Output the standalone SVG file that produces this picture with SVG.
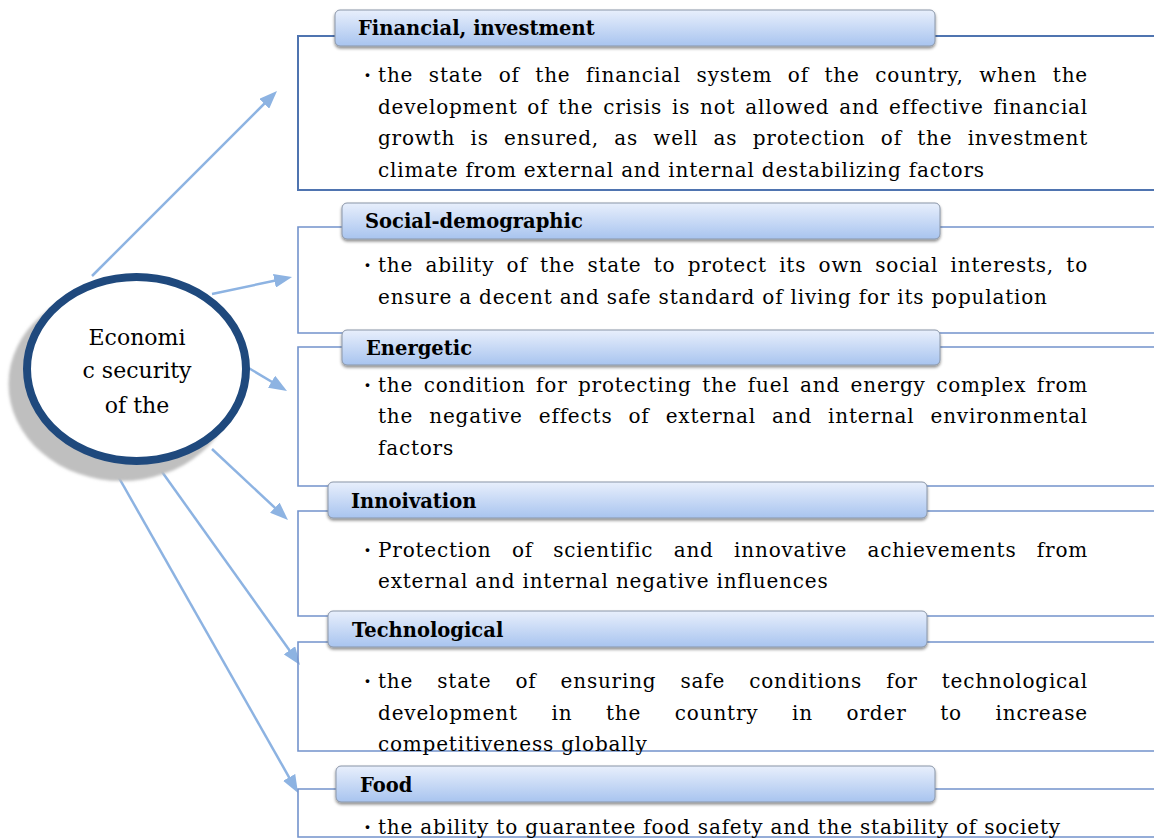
<svg xmlns="http://www.w3.org/2000/svg" width="1154" height="840" viewBox="0 0 1154 840">
<defs>
<linearGradient id="hg" x1="0" y1="0" x2="0" y2="1">
<stop offset="0" stop-color="#e8effc"/>
<stop offset="1" stop-color="#a8c4ef"/>
</linearGradient>
<filter id="hs" x="-5%" y="-30%" width="110%" height="170%">
<feDropShadow dx="0" dy="2" stdDeviation="1.5" flood-color="#000" flood-opacity="0.45"/>
</filter>
<filter id="blur" x="-10%" y="-10%" width="120%" height="120%"><feGaussianBlur stdDeviation="1.5"/></filter>
<marker id="ah" markerUnits="userSpaceOnUse" markerWidth="18" markerHeight="14" refX="6" refY="7" orient="auto"><path d="M0,0 L18,7 L0,14 z" fill="#8db3e2"/></marker>
</defs>
<style>
.box{fill:none;stroke:#7393cc;stroke-width:1.6}
.box1{fill:none;stroke:#4f74b0;stroke-width:2}
.hdr{fill:url(#hg);stroke:#8a96a8;stroke-width:1;filter:url(#hs)}
.ht{font-family:"DejaVu Serif",serif;font-weight:bold;font-size:19.5px;fill:#000}
.bt{font-family:"DejaVu Serif",serif;font-size:20px;letter-spacing:0.8px;fill:#000}
.bl{font-family:"DejaVu Serif",serif;font-size:20px;font-weight:bold;fill:#000}
.ct{font-family:"DejaVu Serif",serif;font-size:22px;fill:#000;text-anchor:middle}
.conn path{fill:none;stroke:#8db3e2;stroke-width:2.5;marker-end:url(#ah)}
</style>
<rect width="1154" height="840" fill="#fff"/>

<g id="connectors" class="conn">
<path d="M92,276 L268.5,99.5"/>
<path d="M212,294 L280.3,279.5"/>
<path d="M247,367 L276.7,384.8"/>
<path d="M212,449 L279.2,511.8"/>
<path d="M155,462 L293,655.2"/>
<path d="M110,462 L292.1,782.6"/>
</g>

<g id="center">
<ellipse cx="121.5" cy="384" rx="113" ry="97" fill="#bfbfbf" filter="url(#blur)"/>
<ellipse cx="136.5" cy="369" rx="109.5" ry="92" fill="#fff" stroke="#1f497d" stroke-width="8"/>
<text class="ct" x="137" y="345">Economi</text>
<text class="ct" x="137" y="378">c security</text>
<text class="ct" x="137" y="413">of the</text>
</g>

<g id="financial">
<path class="box1" d="M1160,36 H298 V190 H1160"/>
<rect class="hdr" x="335" y="10" width="600" height="36" rx="5"/>
<text class="ht" x="358" y="35">Financial, investment</text>
<text class="bl" x="364" y="82">·</text>
<text class="bt" x="378" y="82" word-spacing="8.3" textLength="710" lengthAdjust="spacing">the state of the financial system of the country, when the</text>
<text class="bt" x="378" y="113.5" word-spacing="2.7" textLength="710" lengthAdjust="spacing">development of the crisis is not allowed and effective financial</text>
<text class="bt" x="378" y="145" word-spacing="8.2" textLength="710" lengthAdjust="spacing">growth is ensured, as well as protection of the investment</text>
<text class="bt" x="378" y="176.5">climate from external and internal destabilizing factors</text>
</g>

<g id="social">
<path class="box" d="M1160,227 H298 V333 H1160"/>
<rect class="hdr" x="342" y="203" width="598" height="36" rx="5"/>
<text class="ht" x="365" y="228">Social-demographic</text>
<text class="bl" x="364" y="272">·</text>
<text class="bt" x="378" y="272" word-spacing="5.2" textLength="710" lengthAdjust="spacing">the ability of the state to protect its own social interests, to</text>
<text class="bt" x="378" y="303.5">ensure a decent and safe standard of living for its population</text>
</g>

<g id="energetic">
<path class="box" d="M1160,347 H298 V486 H1160"/>
<rect class="hdr" x="342" y="330" width="598" height="35" rx="5"/>
<text class="ht" x="366" y="355">Energetic</text>
<text class="bl" x="364" y="391.5">·</text>
<text class="bt" x="378" y="391.5" word-spacing="3.3" textLength="710" lengthAdjust="spacing">the condition for protecting the fuel and energy complex from</text>
<text class="bt" x="378" y="423" word-spacing="8.9" textLength="710" lengthAdjust="spacing">the negative effects of external and internal environmental</text>
<text class="bt" x="378" y="454.5">factors</text>
</g>

<g id="innovation">
<path class="box" d="M1160,511 H298 V616 H1160"/>
<rect class="hdr" x="328" y="482" width="599" height="36" rx="5"/>
<text class="ht" x="351" y="508">Innoivation</text>
<text class="bl" x="364" y="556.5">·</text>
<text class="bt" x="378" y="556.5" word-spacing="13.2" textLength="710" lengthAdjust="spacing">Protection of scientific and innovative achievements from</text>
<text class="bt" x="378" y="588">external and internal negative influences</text>
</g>

<g id="technological">
<path class="box" d="M1160,642 H298 V751 H1160"/>
<rect class="hdr" x="328" y="611" width="599" height="36" rx="5"/>
<text class="ht" x="352" y="637">Technological</text>
<text class="bl" x="364" y="688">·</text>
<text class="bt" x="378" y="688" word-spacing="17" textLength="710" lengthAdjust="spacing">the state of ensuring safe conditions for technological</text>
<text class="bt" x="378" y="719.5" word-spacing="26.4" textLength="710" lengthAdjust="spacing">development in the country in order to increase</text>
<text class="bt" x="378" y="751">competitiveness globally</text>
</g>

<g id="food">
<path class="box" d="M1160,789 H298 V837 H1160"/>
<rect class="hdr" x="336" y="766" width="599" height="36" rx="5"/>
<text class="ht" x="360" y="792">Food</text>
<text class="bl" x="364" y="833.5">·</text>
<text class="bt" x="378" y="833.5">the ability to guarantee food safety and the stability of society</text>
</g>
</svg>
